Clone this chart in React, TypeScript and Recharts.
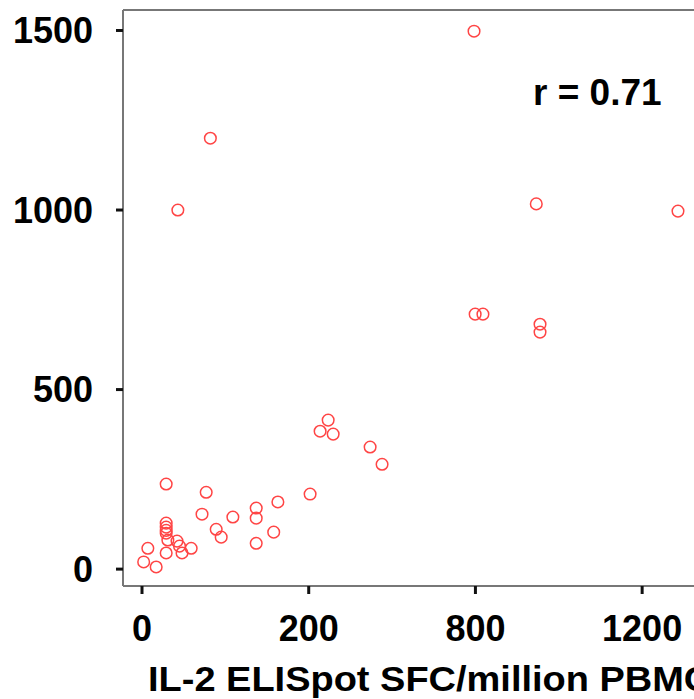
import React from 'react';
import { ScatterChart, Scatter, XAxis, YAxis } from 'recharts';

// IL-2 ELISpot (x) vs the second assay (y); x values read in real units
const xValues = [
  795, 82, 43, 946, 1286, 799, 818, 955, 955,
  270, 241, 288, 421, 464, 205, 29, 77, 72, 109, 137, 137, 163, 158, 137, 89, 95,
  29, 29, 29, 29, 31, 42, 45, 59, 48, 29, 7, 2, 17,
];
const yValues = [
  1498, 1200, 1000, 1017, 997, 710, 710, 682, 660,
  415, 384, 376, 340, 292, 209, 237, 214, 153, 145, 170, 142, 187, 103, 72, 111, 89,
  128, 117, 108, 100, 81, 78, 64, 58, 45, 45, 58, 20, 6,
];

// the x axis is drawn with evenly spaced ticks labelled 0, 200, 800, 1200
const xTickLabels = [0, 200, 800, 1200];
const yTicks = [0, 500, 1000, 1500];

// piecewise map from real value to axis position (one unit per tick)
const toAxis = (v: number) => {
  for (let i = 1; i < xTickLabels.length; i++) {
    const a = xTickLabels[i - 1];
    const b = xTickLabels[i];
    if (v <= b || i === xTickLabels.length - 1) return i - 1 + (v - a) / (b - a);
  }
  return 0;
};

const data = xValues.map((x, i) => ({ x: toAxis(x), raw: x, y: yValues[i] }));

const FONT = '"Liberation Sans", Arial, sans-serif';
const AXIS = '#777777';

const Ring = (props: any) => {
  const { cx, cy } = props;
  if (cx == null || cy == null) return null;
  return <circle cx={cx} cy={cy} r={5.8} fill="none" stroke="#ff4545" strokeWidth={1.5} />;
};

export default function App() {
  return (
    <div
      style={{
        position: 'absolute',
        left: 0,
        top: 0,
        width: 694,
        height: 699,
        overflow: 'hidden',
        background: '#fff',
        fontFamily: FONT,
      }}
    >
      <ScatterChart width={760} height={699} margin={{ top: 9, right: 20, bottom: 53, left: 63 }}>
        <XAxis
          xAxisId="top"
          orientation="top"
          type="number"
          dataKey="x"
          domain={[-0.114, 3.587]}
          height={1}
          tick={false}
          tickLine={false}
          axisLine={{ stroke: AXIS, strokeWidth: 2 }}
        />
        <XAxis
          type="number"
          dataKey="x"
          domain={[-0.114, 3.587]}
          ticks={[0, 1, 2, 3]}
          tickFormatter={(v: number) => String(xTickLabels[v])}
          height={60}
          tickSize={8}
          tickMargin={21}
          axisLine={{ stroke: AXIS, strokeWidth: 2 }}
          tickLine={{ stroke: '#111', strokeWidth: 3 }}
          tick={{ fill: '#000', fontSize: 36, fontWeight: 'bold', fontFamily: FONT }}
          allowDataOverflow
        />
        <YAxis
          type="number"
          dataKey="y"
          domain={[-47, 1557]}
          ticks={yTicks}
          width={60}
          tickSize={7}
          tickMargin={23}
          axisLine={{ stroke: AXIS, strokeWidth: 2 }}
          tickLine={{ stroke: '#111', strokeWidth: 3 }}
          tick={{ fill: '#000', fontSize: 36, fontWeight: 'bold', fontFamily: FONT }}
          allowDataOverflow
        />
        <Scatter data={data} shape={<Ring />} isAnimationActive={false} />
      </ScatterChart>
      <div
        style={{
          position: 'absolute',
          left: 533,
          top: 73,
          fontSize: 37,
          fontWeight: 'bold',
          lineHeight: '40px',
          whiteSpace: 'nowrap',
        }}
      >
        r = 0.71
      </div>
      <div
        style={{
          position: 'absolute',
          left: 148,
          top: 659,
          fontSize: 35,
          fontWeight: 'bold',
          lineHeight: '40px',
          whiteSpace: 'nowrap',
          transform: 'scaleX(1.085)',
          transformOrigin: 'left center',
        }}
      >
        IL-2 ELISpot SFC/million PBMC
      </div>
    </div>
  );
}
